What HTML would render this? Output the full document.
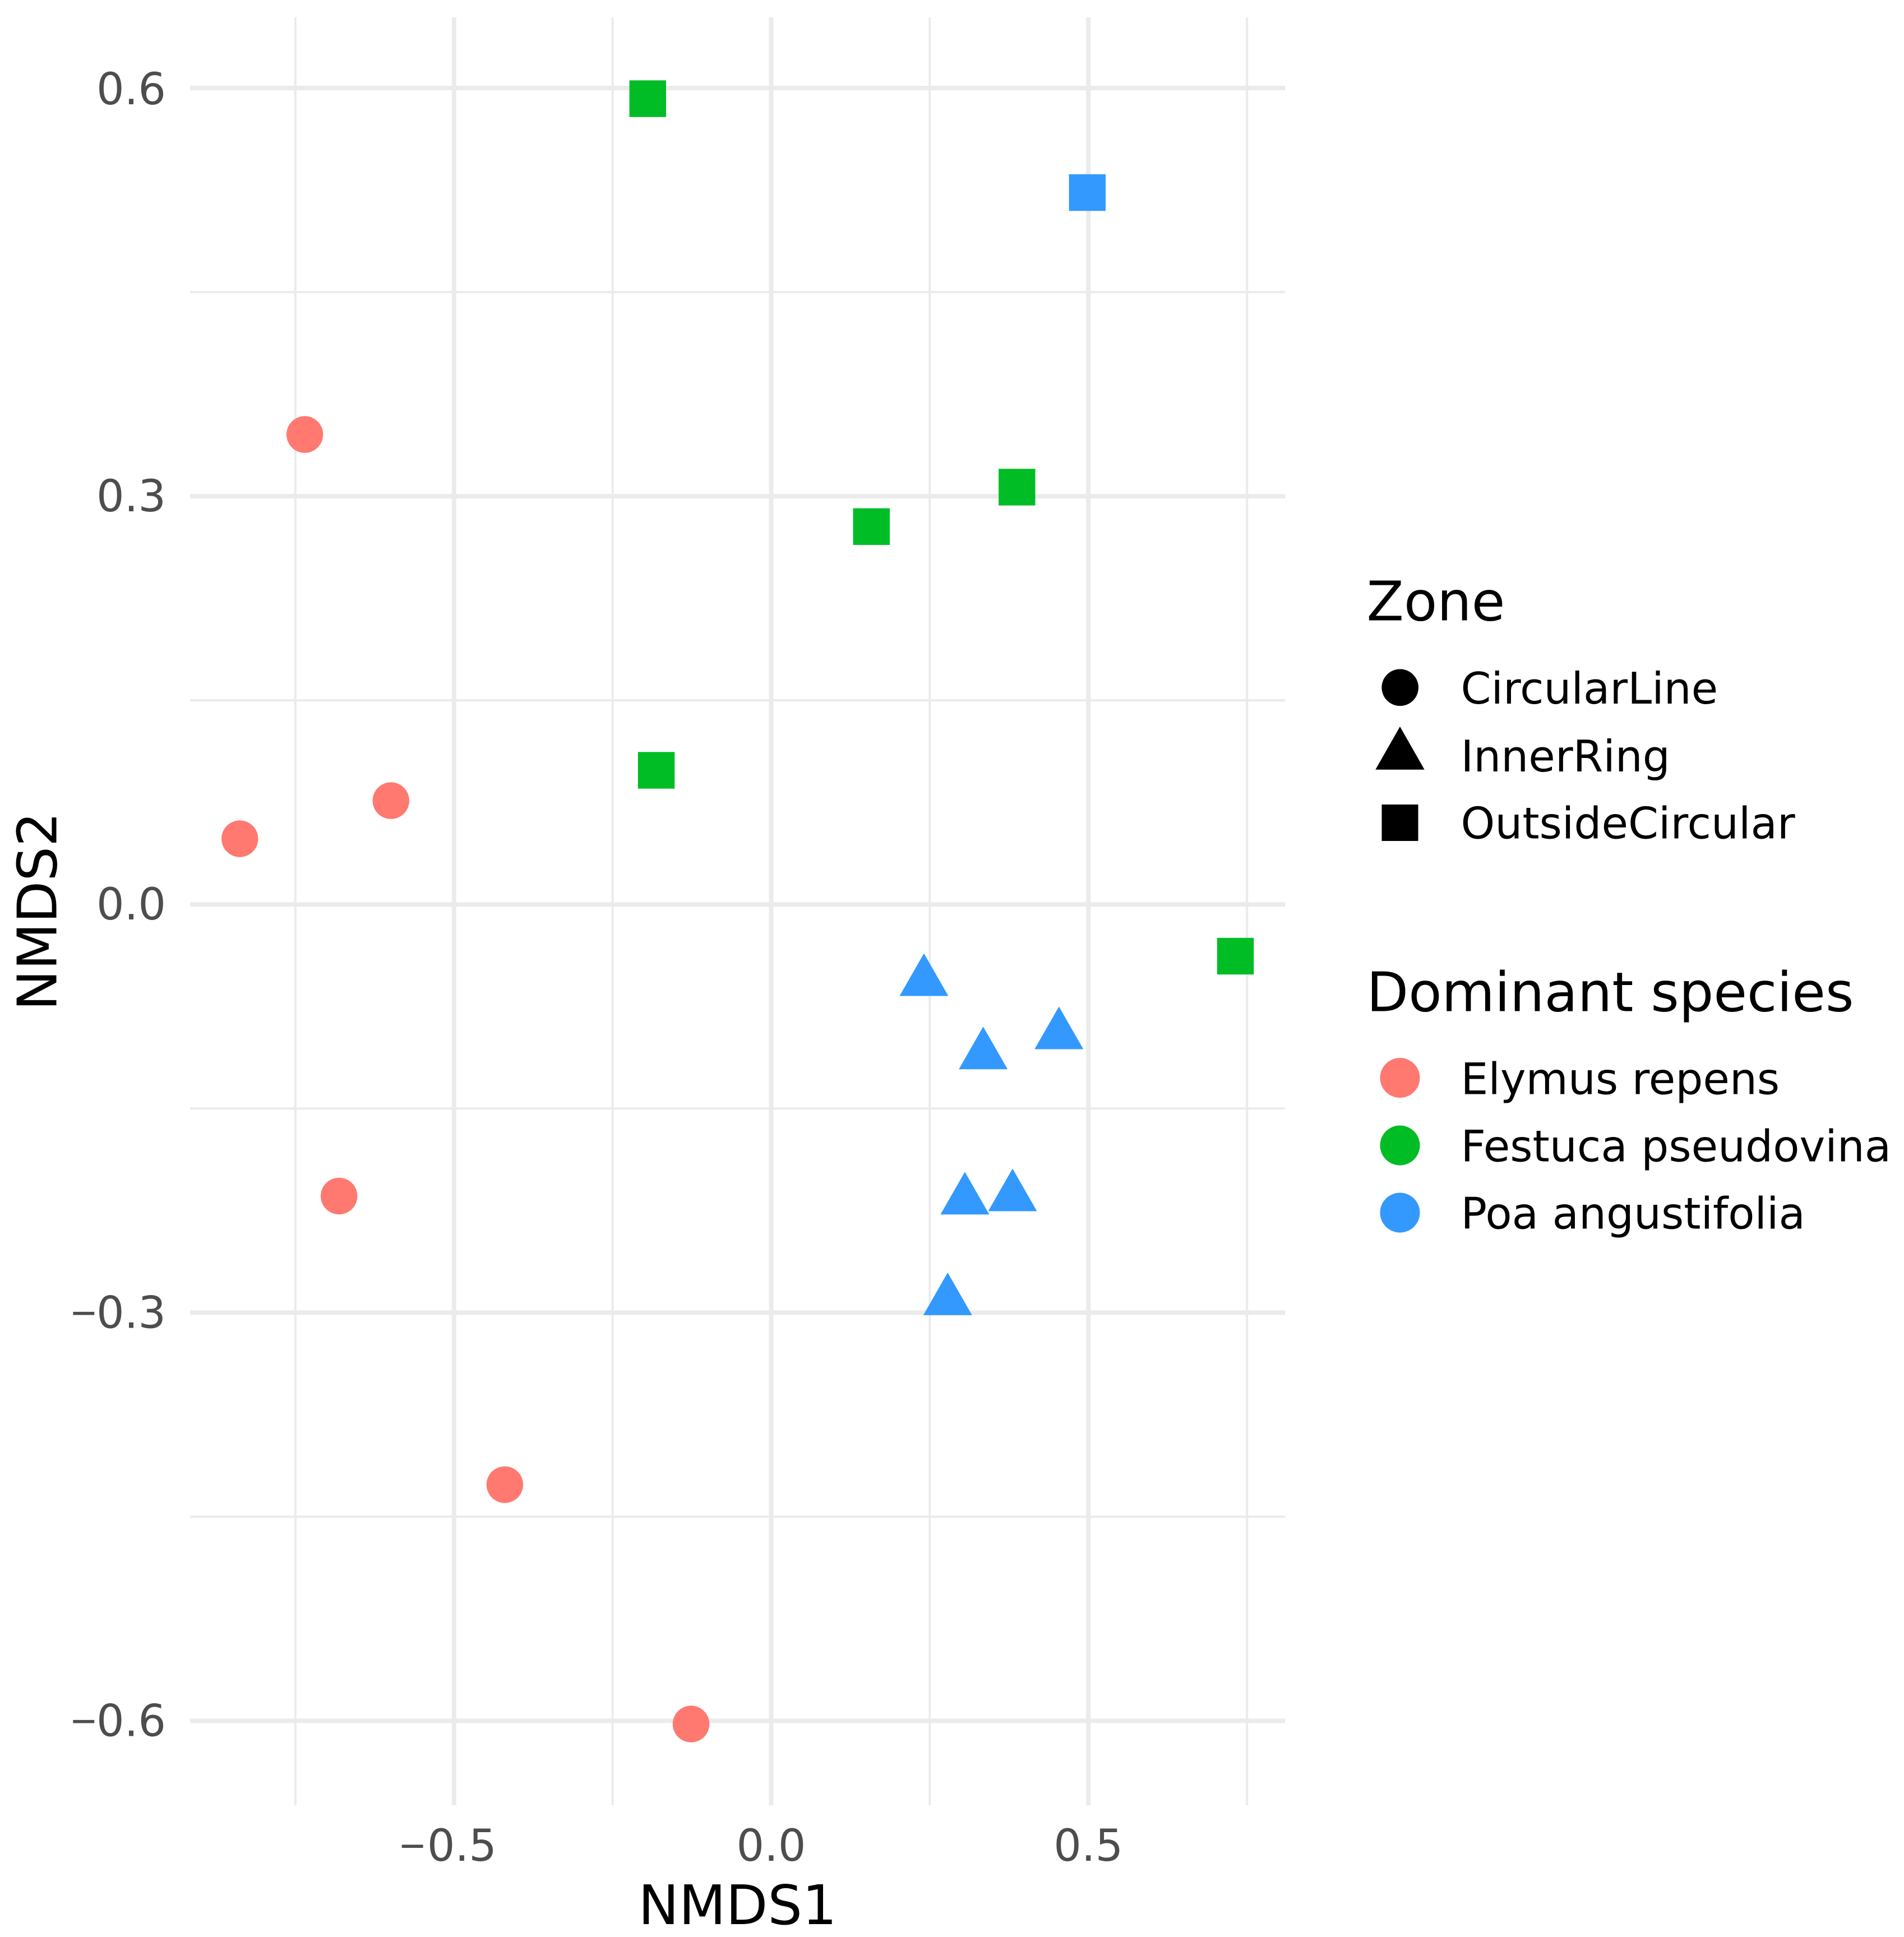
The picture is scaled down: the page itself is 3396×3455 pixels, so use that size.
<!DOCTYPE html>
<html lang="en">
<head>
<meta charset="utf-8">
<title>NMDS ordination by zone and dominant species</title>
<style>
  html, body { margin: 0; padding: 0; background: #ffffff; }
  svg { display: block; }
  text { font-family: "DejaVu Sans", "Liberation Sans", sans-serif; }
  .axis-title { font-size: 97px; fill: #000000; }
  .legend-title { font-size: 97px; fill: #000000; }
  .legend-label { font-size: 77.3px; fill: #000000; }
  .tick-label { font-size: 78px; fill: #4D4D4D; }
  .minus { font-family: "Liberation Sans", sans-serif; }
</style>
</head>
<body>
<svg id="chart" xmlns="http://www.w3.org/2000/svg" width="3396" height="3455" viewBox="0 0 3396 3455">
  <rect x="0" y="0" width="3396" height="3455" fill="#ffffff"/>
  <g id="grid"></g>
  <g id="points"></g>
  <g id="ticks"></g>

  <text class="axis-title" x="1315.5" y="3432" text-anchor="middle">NMDS1</text>
  <text class="axis-title" transform="translate(100.5,1625.5) rotate(-90)" text-anchor="middle">NMDS2</text>

  <g>
    <text class="legend-title" x="2437.5" y="1106.5">Zone</text>
    <circle cx="2497.2" cy="1226.3" r="32.8" fill="#000000"/>
    <text class="legend-label" x="2605.5" y="1255">CircularLine</text>
    <polygon points="2497,1296 2453.3,1372.7 2540.7,1372.7" fill="#000000"/>
    <text class="legend-label" x="2605.5" y="1376">InnerRing</text>
    <rect x="2464.5" y="1435" width="65" height="65" fill="#000000"/>
    <text class="legend-label" x="2605.5" y="1495.5">OutsideCircular</text>
  </g>

  <g>
    <text class="legend-title" x="2437.5" y="1803.5">Dominant species</text>
    <circle cx="2497" cy="1922.5" r="35.5" fill="#FF7970"/>
    <text class="legend-label" x="2605.5" y="1951.5">Elymus repens</text>
    <circle cx="2497" cy="2043" r="35.5" fill="#00BD26"/>
    <text class="legend-label" x="2605.5" y="2071.5">Festuca pseudovina</text>
    <circle cx="2497" cy="2163" r="35.5" fill="#3399FF"/>
    <text class="legend-label" x="2605.5" y="2191.5">Poa angustifolia</text>
  </g>
</svg>

<script>
const xMajorTicks = [-0.5, 0, 0.5];
const xMinorTicks = [-0.75, -0.25, 0.25, 0.75];
const yMajorTicks = [0.6, 0.3, 0, -0.3, -0.6];
const yMinorTicks = [0.45, 0.15, -0.15, -0.45];
const xTickLabels = ['\u22120.5', '0.0', '0.5'];
const yTickLabels = ['0.6', '0.3', '0.0', '\u22120.3', '\u22120.6'];

const pointX = [-0.7352, -0.5994, -0.8376, -0.6812, -0.4199, -0.1263,
                -0.1946, 0.3874, 0.1580, -0.1811, 0.7318,
                0.4983,
                0.2408, 0.3342, 0.4536, 0.3053, 0.3805, 0.2782];
const pointY = [0.3452, 0.0761, 0.0481, -0.2145, -0.4266, -0.6025,
                0.5920, 0.3065, 0.2775, 0.0984, -0.0382,
                0.5230,
                -0.0570, -0.1109, -0.0961, -0.2176, -0.2152, -0.2916];
const pointZone = ['CircularLine', 'CircularLine', 'CircularLine', 'CircularLine', 'CircularLine', 'CircularLine',
                   'OutsideCircular', 'OutsideCircular', 'OutsideCircular', 'OutsideCircular', 'OutsideCircular',
                   'OutsideCircular',
                   'InnerRing', 'InnerRing', 'InnerRing', 'InnerRing', 'InnerRing', 'InnerRing'];
const pointSpecies = ['Elymus repens', 'Elymus repens', 'Elymus repens', 'Elymus repens', 'Elymus repens', 'Elymus repens',
                      'Festuca pseudovina', 'Festuca pseudovina', 'Festuca pseudovina', 'Festuca pseudovina', 'Festuca pseudovina',
                      'Poa angustifolia',
                      'Poa angustifolia', 'Poa angustifolia', 'Poa angustifolia', 'Poa angustifolia', 'Poa angustifolia', 'Poa angustifolia'];

const SVG_NS = 'http://www.w3.org/2000/svg';
const panel = { left: 339, right: 2292, top: 31, bottom: 3220 };
const speciesColor = { 'Elymus repens': '#FF7970', 'Festuca pseudovina': '#00BD26', 'Poa angustifolia': '#3399FF' };

function xScale(v) { return 1375.5 + 1131.5 * v; }
function yScale(v) { return 1613.2 - 2427 * v; }

function make(tag, parent, attrs) {
  const el = document.createElementNS(SVG_NS, tag);
  Object.keys(attrs).forEach(function (k) { el.setAttribute(k, attrs[k]); });
  parent.appendChild(el);
  return el;
}

const gridGroup = document.getElementById('grid');
const pointGroup = document.getElementById('points');
const tickGroup = document.getElementById('ticks');

function vLine(v, width, name) {
  const el = make('line', gridGroup, { x1: xScale(v), x2: xScale(v), y1: panel.top, y2: panel.bottom, stroke: '#EBEBEB', 'stroke-width': width });
  
  
}
function hLine(v, width, name) {
  const el = make('line', gridGroup, { x1: panel.left, x2: panel.right, y1: yScale(v), y2: yScale(v), stroke: '#EBEBEB', 'stroke-width': width });
  
  
}

xMinorTicks.forEach(function (v) { vLine(v, 4, 'x-minor-gridline'); });
yMinorTicks.forEach(function (v) { hLine(v, 4, 'y-minor-gridline'); });
xMajorTicks.forEach(function (v) { vLine(v, 8, 'x-major-gridline'); });
yMajorTicks.forEach(function (v) { hLine(v, 8, 'y-major-gridline'); });

function fillLabel(el, label, digitGap) {
  if (label.charAt(0) === '\u2212') {
    const minus = make('tspan', el, { 'class': 'minus' });
    minus.textContent = '\u2212';
    const digits = make('tspan', el, { dx: digitGap });
    digits.textContent = label.slice(1);
  } else {
    el.textContent = label;
  }
}

xMajorTicks.forEach(function (v, i) {
  const negative = xTickLabels[i].charAt(0) === '\u2212';
  const el = make('text', tickGroup, {
    'class': 'tick-label',
    x: negative ? xScale(v) - 97 : xScale(v),
    y: 3319,
    'text-anchor': negative ? 'start' : 'middle'
  });
  
  
  fillLabel(el, xTickLabels[i], 3.5);
});

yMajorTicks.forEach(function (v, i) {
  const el = make('text', tickGroup, {
    'class': 'tick-label',
    x: 296,
    y: yScale(v) + (i === 0 ? 29 : 27),
    'text-anchor': 'end'
  });
  
  
  fillLabel(el, yTickLabels[i], 0);
});

pointX.forEach(function (v, i) {
  const cx = xScale(v);
  const cy = yScale(pointY[i]) - 0.4;
  const color = speciesColor[pointSpecies[i]];
  let el;
  if (pointZone[i] === 'CircularLine') {
    el = make('circle', pointGroup, { cx: cx, cy: cy, r: 32.7, fill: color });
  } else if (pointZone[i] === 'InnerRing') {
    el = make('polygon', pointGroup, {
      points: cx + ',' + (cy - 50.7) + ' ' + (cx - 43.5) + ',' + (cy + 25.3) + ' ' + (cx + 43.5) + ',' + (cy + 25.3),
      fill: color
    });
  } else {
    el = make('rect', pointGroup, { x: cx - 32.7, y: cy - 32.7, width: 65.4, height: 65.4, fill: color });
  }
  
  
});
</script>
</body>
</html>
